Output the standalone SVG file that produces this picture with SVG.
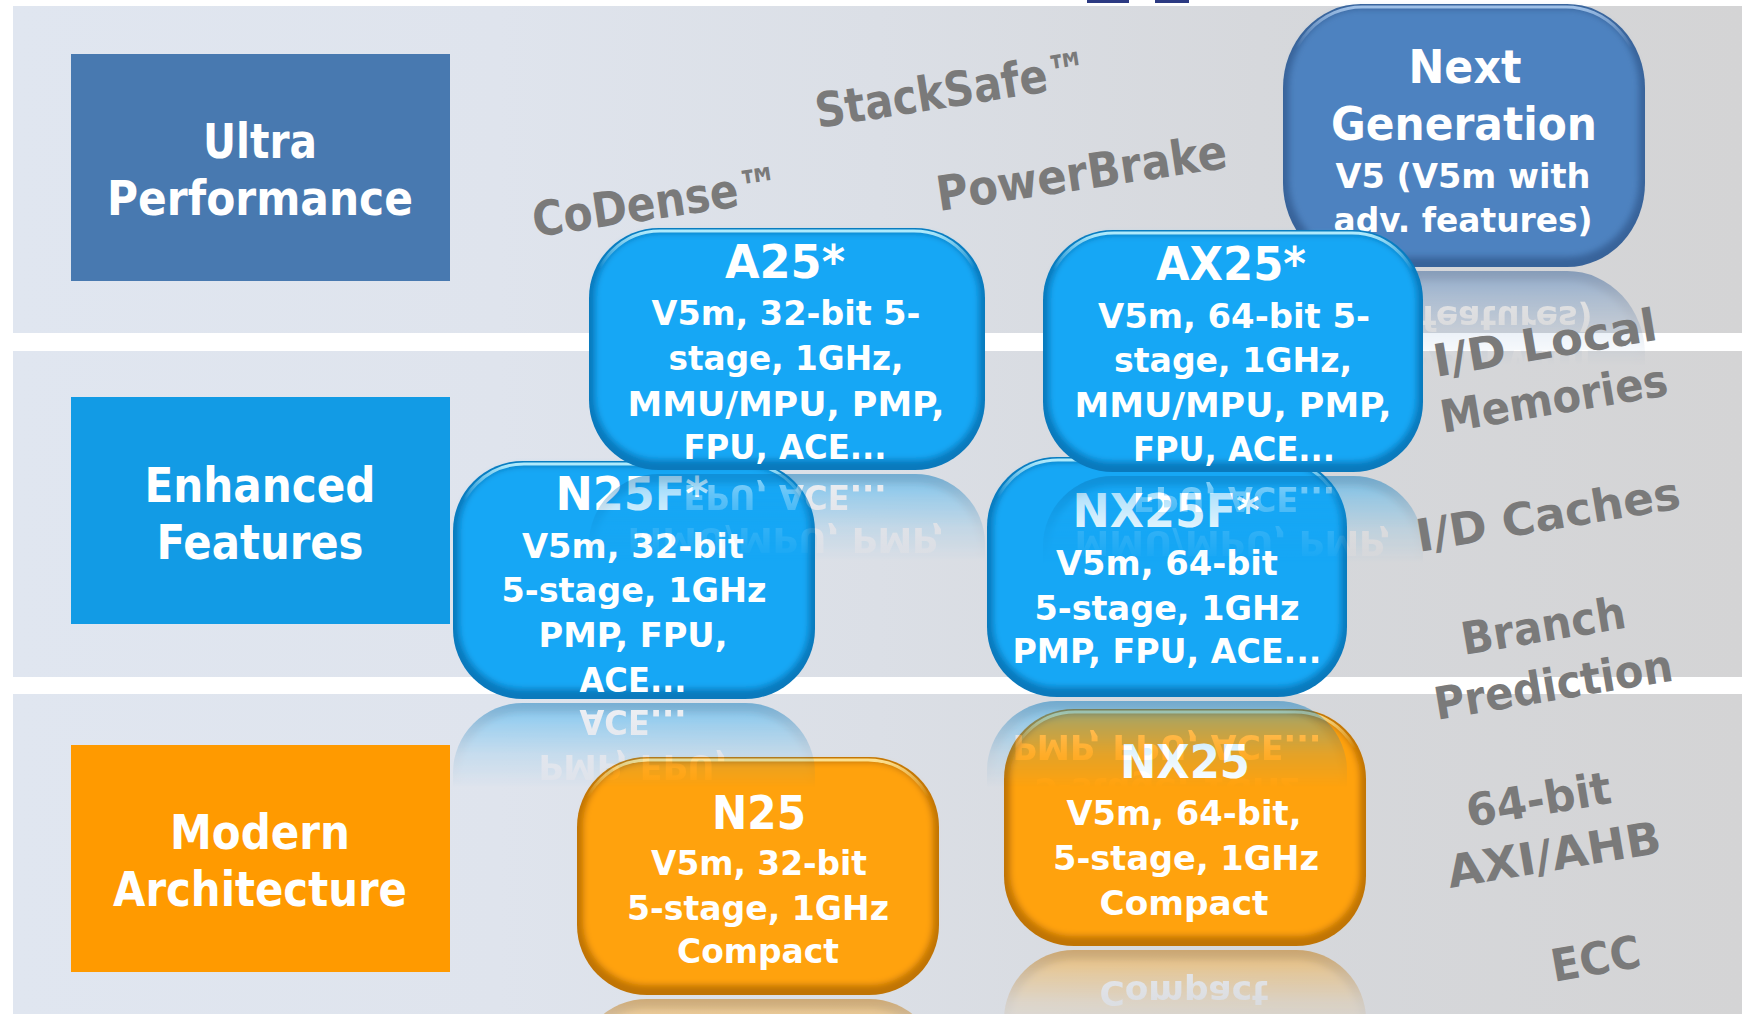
<svg xmlns="http://www.w3.org/2000/svg" width="1742" height="1014" viewBox="0 0 1742 1014">
<defs>
<style>
.t{font-family:"DejaVu Sans",Verdana,sans-serif;font-weight:bold;fill:#fff;text-anchor:middle}
.lab{font-size:48px}
.ttl{font-size:46px}
.bd{font-size:33px}
.g text{font-family:"DejaVu Sans",Verdana,sans-serif;font-weight:bold;fill:#7a7a7a}
.g .top{font-size:48px}
.g .rt{font-size:45px}
.band{fill:url(#bandG)}
.hl{fill:none;stroke-width:3}
.blue .rim{fill:#0a79bc}
.blue .face{fill:#13a7f5}
.blue .hl{stroke:url(#hlB)}
.orange .rim{fill:#c07404}
.orange .face{fill:#ffa210}
.orange .hl{stroke:url(#hlO)}
.steel .rim{fill:#38639a}
.steel .face{fill:#4d82c0}
.steel .hl{stroke:url(#hlS)}
</style>
<linearGradient id="bandG" x1="0" y1="0" x2="1" y2="0">
<stop offset="0" stop-color="#e0e6f0"/>
<stop offset="0.28" stop-color="#dfe4ed"/>
<stop offset="0.5" stop-color="#dbdfe6"/>
<stop offset="0.72" stop-color="#d6d8dc"/>
<stop offset="1" stop-color="#d4d4d5"/>
</linearGradient>
<linearGradient id="hlB" x1="0" y1="0" x2="0" y2="1">
<stop offset="0" stop-color="#b8f0ff" stop-opacity="0.95"/>
<stop offset="0.16" stop-color="#b8f0ff" stop-opacity="0"/>
</linearGradient>
<linearGradient id="hlO" x1="0" y1="0" x2="0" y2="1">
<stop offset="0" stop-color="#ffe699" stop-opacity="0.95"/>
<stop offset="0.16" stop-color="#ffe699" stop-opacity="0"/>
</linearGradient>
<linearGradient id="hlS" x1="0" y1="0" x2="0" y2="1">
<stop offset="0" stop-color="#a9c9ee" stop-opacity="0.9"/>
<stop offset="0.16" stop-color="#a9c9ee" stop-opacity="0"/>
</linearGradient>
<filter id="soft" x="-10%" y="-10%" width="120%" height="120%">
<feGaussianBlur stdDeviation="3"/>
</filter>
<linearGradient id="fadeG" x1="0" y1="0" x2="0" y2="1">
<stop offset="0" stop-color="#fff" stop-opacity="0.5"/>
<stop offset="0.1" stop-color="#fff" stop-opacity="0.3"/>
<stop offset="0.22" stop-color="#fff" stop-opacity="0.12"/>
<stop offset="0.36" stop-color="#fff" stop-opacity="0"/>
</linearGradient>
<mask id="fade" maskContentUnits="objectBoundingBox">
<rect x="0" y="0" width="1" height="1" fill="url(#fadeG)"/>
</mask>
</defs>

<g id="background">
<rect class="band" x="13" y="6" width="1729" height="327"/>
<rect class="band" x="13" y="351" width="1729" height="326"/>
<rect class="band" x="13" y="694" width="1729" height="320"/>
<rect x="1087" y="0" width="42" height="3" fill="#2c3a82"/>
<rect x="1155" y="0" width="34" height="3" fill="#2c3a82"/>
</g>

<g id="tier-ultra">
<rect x="71" y="54" width="379" height="227" fill="#4879b0"/>
<text class="t lab" x="260" y="158" textLength="114" lengthAdjust="spacingAndGlyphs">Ultra</text>
<text class="t lab" x="260" y="215" textLength="306" lengthAdjust="spacingAndGlyphs">Performance</text>
</g>
<g id="tier-enhanced">
<rect x="71" y="397" width="379" height="227" fill="#129be5"/>
<text class="t lab" x="260" y="502" textLength="231" lengthAdjust="spacingAndGlyphs">Enhanced</text>
<text class="t lab" x="260" y="559" textLength="207" lengthAdjust="spacingAndGlyphs">Features</text>
</g>
<g id="tier-modern">
<rect x="71" y="745" width="379" height="227" fill="#ff9a00"/>
<text class="t lab" x="260" y="849" textLength="180" lengthAdjust="spacingAndGlyphs">Modern</text>
<text class="t lab" x="260" y="906" textLength="294" lengthAdjust="spacingAndGlyphs">Architecture</text>
</g>

<g id="n-nextgen" class="node steel">
<rect class="rim" x="1283" y="4" width="362" height="263" rx="78" ry="84"/>
<rect class="face" x="1289" y="9" width="350" height="248" rx="72" ry="78" filter="url(#soft)"/>
<rect class="hl" x="1287" y="7" width="354" height="256" rx="75" ry="81"/>
<text class="t" style="font-size:47px" x="1465" y="83" textLength="113" lengthAdjust="spacingAndGlyphs">Next</text>
<text class="t" style="font-size:47px" x="1464" y="140" textLength="266" lengthAdjust="spacingAndGlyphs">Generation</text>
<text class="t bd" x="1463" y="188" textLength="255" lengthAdjust="spacingAndGlyphs">V5 (V5m with</text>
<text class="t bd" x="1463" y="232" textLength="259" lengthAdjust="spacingAndGlyphs">adv. features)</text>
</g>
<g id="refl-nextgen" mask="url(#fade)">
<use href="#n-nextgen" transform="translate(0,538) scale(1,-1)"/>
</g>

<g id="n-n25f" class="node blue">
<rect class="rim" x="453" y="461" width="362" height="238" rx="70"/>
<rect class="face" x="459" y="466" width="350" height="223" rx="64" filter="url(#soft)"/>
<rect class="hl" x="457" y="464" width="354" height="231" rx="67"/>
<text class="t ttl" x="632" y="510" textLength="153" lengthAdjust="spacingAndGlyphs">N25F*</text>
<text class="t bd" x="633" y="558" textLength="222" lengthAdjust="spacingAndGlyphs">V5m, 32-bit</text>
<text class="t bd" x="634" y="602" textLength="265" lengthAdjust="spacingAndGlyphs">5-stage, 1GHz</text>
<text class="t bd" x="633" y="647" textLength="189" lengthAdjust="spacingAndGlyphs">PMP, FPU,</text>
<text class="t bd" x="633" y="692" textLength="107" lengthAdjust="spacingAndGlyphs">ACE...</text>
</g>

<g id="n-nx25f" class="node blue">
<rect class="rim" x="987" y="457" width="360" height="240" rx="70"/>
<rect class="face" x="993" y="462" width="348" height="225" rx="64" filter="url(#soft)"/>
<rect class="hl" x="991" y="460" width="352" height="233" rx="67"/>
<text class="t ttl" x="1166" y="527" textLength="187" lengthAdjust="spacingAndGlyphs">NX25F*</text>
<text class="t bd" x="1167" y="575" textLength="222" lengthAdjust="spacingAndGlyphs">V5m, 64-bit</text>
<text class="t bd" x="1167" y="620" textLength="265" lengthAdjust="spacingAndGlyphs">5-stage, 1GHz</text>
<text class="t bd" x="1167" y="663" textLength="309" lengthAdjust="spacingAndGlyphs">PMP, FPU, ACE...</text>
</g>

<g id="n-a25" class="node blue">
<rect class="rim" x="589" y="228" width="396" height="242" rx="70"/>
<rect class="face" x="595" y="233" width="384" height="227" rx="64" filter="url(#soft)"/>
<rect class="hl" x="593" y="231" width="388" height="235" rx="67"/>
<text class="t ttl" x="785" y="278" textLength="120" lengthAdjust="spacingAndGlyphs">A25*</text>
<text class="t bd" x="786" y="325" textLength="269" lengthAdjust="spacingAndGlyphs">V5m, 32-bit 5-</text>
<text class="t bd" x="786" y="370" textLength="235" lengthAdjust="spacingAndGlyphs">stage, 1GHz,</text>
<text class="t bd" x="786" y="416" textLength="317" lengthAdjust="spacingAndGlyphs">MMU/MPU, PMP,</text>
<text class="t bd" x="785" y="459" textLength="203" lengthAdjust="spacingAndGlyphs">FPU, ACE...</text>
</g>

<g id="n-ax25" class="node blue">
<rect class="rim" x="1043" y="230" width="380" height="242" rx="70"/>
<rect class="face" x="1049" y="235" width="368" height="227" rx="64" filter="url(#soft)"/>
<rect class="hl" x="1047" y="233" width="372" height="235" rx="67"/>
<text class="t ttl" x="1231" y="280" textLength="150" lengthAdjust="spacingAndGlyphs">AX25*</text>
<text class="t bd" x="1234" y="328" textLength="272" lengthAdjust="spacingAndGlyphs">V5m, 64-bit 5-</text>
<text class="t bd" x="1233" y="372" textLength="238" lengthAdjust="spacingAndGlyphs">stage, 1GHz,</text>
<text class="t bd" x="1233" y="417" textLength="317" lengthAdjust="spacingAndGlyphs">MMU/MPU, PMP,</text>
<text class="t bd" x="1234" y="461" textLength="202" lengthAdjust="spacingAndGlyphs">FPU, ACE...</text>
</g>

<g id="refl-upper">
<g mask="url(#fade)"><use href="#n-a25" transform="translate(0,944) scale(1,-1)"/></g>
<g mask="url(#fade)"><use href="#n-ax25" transform="translate(0,948) scale(1,-1)"/></g>
</g>

<g id="n-n25" class="node orange">
<rect class="rim" x="577" y="757" width="362" height="238" rx="70"/>
<rect class="face" x="583" y="762" width="350" height="223" rx="64" filter="url(#soft)"/>
<rect class="hl" x="581" y="760" width="354" height="231" rx="67"/>
<text class="t ttl" x="759" y="829" textLength="94" lengthAdjust="spacingAndGlyphs">N25</text>
<text class="t bd" x="759" y="875" textLength="216" lengthAdjust="spacingAndGlyphs">V5m, 32-bit</text>
<text class="t bd" x="758" y="920" textLength="262" lengthAdjust="spacingAndGlyphs">5-stage, 1GHz</text>
<text class="t bd" x="758" y="963" textLength="162" lengthAdjust="spacingAndGlyphs">Compact</text>
</g>

<g id="n-nx25" class="node orange">
<rect class="rim" x="1004" y="709" width="362" height="237" rx="70"/>
<rect class="face" x="1010" y="714" width="350" height="222" rx="64" filter="url(#soft)"/>
<rect class="hl" x="1008" y="712" width="354" height="230" rx="67"/>
<text class="t ttl" x="1185" y="778" textLength="130" lengthAdjust="spacingAndGlyphs">NX25</text>
<text class="t bd" x="1184" y="825" textLength="235" lengthAdjust="spacingAndGlyphs">V5m, 64-bit,</text>
<text class="t bd" x="1186" y="870" textLength="266" lengthAdjust="spacingAndGlyphs">5-stage, 1GHz</text>
<text class="t bd" x="1184" y="915" textLength="169" lengthAdjust="spacingAndGlyphs">Compact</text>
</g>

<g id="refl-lower">
<g mask="url(#fade)"><use href="#n-n25f" transform="translate(0,1402) scale(1,-1)"/></g>
<g mask="url(#fade)"><use href="#n-nx25f" transform="translate(0,1398) scale(1,-1)"/></g>
<g mask="url(#fade)"><use href="#n-n25" transform="translate(0,1994) scale(1,-1)"/></g>
<g mask="url(#fade)"><use href="#n-nx25" transform="translate(0,1896) scale(1,-1)"/></g>
</g>

<g id="features" class="g">
<text class="top" x="535" y="237" transform="rotate(-8.5 535 237)" textLength="250" lengthAdjust="spacingAndGlyphs">CoDense™</text>
<text class="top" x="818" y="128" transform="rotate(-9 818 128)" textLength="276" lengthAdjust="spacingAndGlyphs">StackSafe™</text>
<text class="top" x="939" y="211" transform="rotate(-8.5 939 211)" textLength="293" lengthAdjust="spacingAndGlyphs">PowerBrake</text>
<text class="rt" x="1436" y="377" transform="rotate(-9.5 1436 377)" textLength="226" lengthAdjust="spacingAndGlyphs">I/D Local</text>
<text class="rt" x="1443" y="433" transform="rotate(-9.5 1443 433)" textLength="230" lengthAdjust="spacingAndGlyphs">Memories</text>
<text class="rt" x="1419" y="552" transform="rotate(-9.5 1419 552)" textLength="267" lengthAdjust="spacingAndGlyphs">I/D Caches</text>
<text class="rt" x="1464" y="655" transform="rotate(-9.5 1464 655)" textLength="166" lengthAdjust="spacingAndGlyphs">Branch</text>
<text class="rt" x="1437" y="720" transform="rotate(-9.5 1437 720)" textLength="241" lengthAdjust="spacingAndGlyphs">Prediction</text>
<text class="rt" x="1469" y="827" transform="rotate(-9.5 1469 827)" textLength="146" lengthAdjust="spacingAndGlyphs">64-bit</text>
<text class="rt" x="1450" y="888" transform="rotate(-9.5 1450 888)" textLength="216" lengthAdjust="spacingAndGlyphs">AXI/AHB</text>
<text class="rt" x="1554" y="982" transform="rotate(-10 1554 982)" textLength="90" lengthAdjust="spacingAndGlyphs">ECC</text>
</g>
</svg>
